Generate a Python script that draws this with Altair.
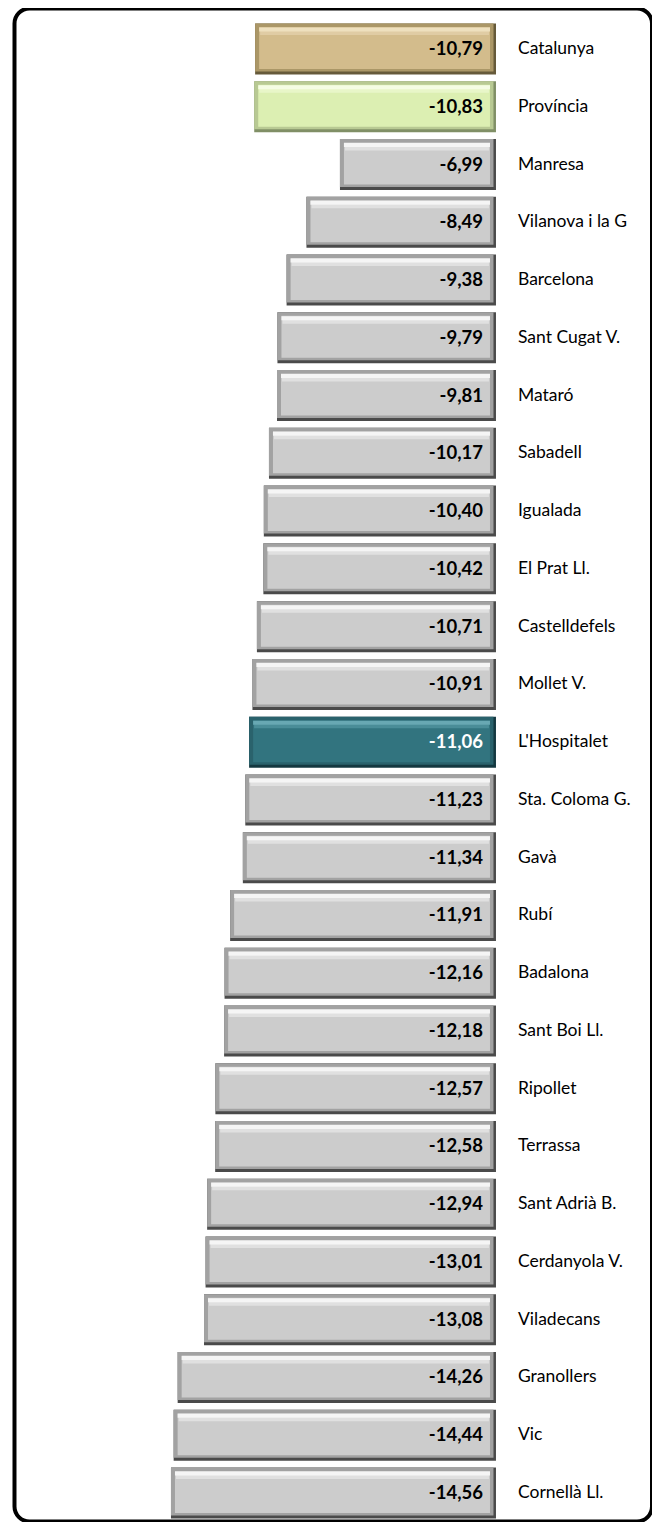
import altair as alt
import pandas as pd

names = ["Catalunya", "Província", "Manresa", "Vilanova  i la G", "Barcelona",
         "Sant Cugat V.", "Mataró", "Sabadell", "Igualada", "El Prat Ll.",
         "Castelldefels", "Mollet V.", "L'Hospitalet", "Sta. Coloma  G.", "Gavà",
         "Rubí", "Badalona", "Sant Boi Ll.", "Ripollet", "Terrassa",
         "Sant Adrià B.", "Cerdanyola V.", "Viladecans", "Granollers", "Vic",
         "Cornellà Ll."]
values = [-10.79, -10.83, -6.99, -8.49, -9.38, -9.79, -9.81, -10.17, -10.40,
          -10.42, -10.71, -10.91, -11.06, -11.23, -11.34, -11.91, -12.16,
          -12.18, -12.57, -12.58, -12.94, -13.01, -13.08, -14.26, -14.44, -14.56]
kinds = ["cat", "prov"] + ["mun"] * 10 + ["hosp"] + ["mun"] * 13

kind_domain = ["cat", "prov", "hosp", "mun"]
outer_colors = ["#665a3a", "#808f66", "#143840", "#4a4a4a"]
edge_colors = ["#ab9767", "#b8c993", "#2a626c", "#a2a2a2"]
body_colors = ["#d3bc8c", "#dcefb2", "#32747f", "#cccccc"]
mid_colors = ["#e0cca4", "#e8f6c8", "#4a8d98", "#e0e0e0"]
high_colors = ["#eee0be", "#f5fce4", "#68a8b3", "#f5f5f5"]

df = pd.DataFrame({"name": names, "value": values, "kind": kinds})

FONT = "Lato"

xs = alt.Scale(domain=[-21.57, 6.99], nice=False, zero=False)
ys = alt.Scale(domain=names, paddingInner=0.1344, paddingOuter=0.165, align=0.816)

base = alt.Chart(df).encode(
    y=alt.Y("name:N", scale=ys, axis=None, sort=None),
)

def bar_layer(colors, **mk):
    return base.mark_bar(**mk).encode(
        x=alt.X("value:Q", scale=xs, axis=None),
        x2=alt.datum(0),
        color=alt.Color("kind:N", scale=alt.Scale(domain=kind_domain, range=colors), legend=None),
    )

outer = bar_layer(outer_colors, size=51)
edge = bar_layer(edge_colors, size=48, yOffset=-1.5, x2Offset=-2.5)
body = bar_layer(body_colors, size=42, yOffset=-1, xOffset=4, x2Offset=-6)
mid = bar_layer(mid_colors, size=4, yOffset=-16, xOffset=5, x2Offset=-7)
high = bar_layer(high_colors, size=4, yOffset=-19.5, xOffset=4, x2Offset=-6)

vals = base.mark_text(align="right", baseline="middle", dx=-13, fontSize=18.5,
                      fontWeight="bold", font=FONT).encode(
    x=alt.datum(0),
    text="label:N",
    color=alt.condition("datum.kind == 'hosp'", alt.value("#ffffff"), alt.value("#000000")),
).transform_calculate(
    label="'-' + replace(format(abs(datum.value), '.2f'), '.', ',')"
)

labels = base.mark_text(align="left", baseline="middle", dx=22, fontSize=17.5,
                        font=FONT, color="#000000").encode(
    x=alt.datum(0),
    text="name:N",
)

chart = alt.layer(outer, edge, body, mid, high, vals, labels).resolve_scale(
    color="independent"
).properties(
    width=637.5, height=1513,
    autosize=alt.AutoSizeParams(type="none"),
    padding={"left": 6.5, "top": 0.5, "right": 0, "bottom": 0},
).configure_view(
    stroke="#000000", strokeWidth=4, cornerRadius=15
)

chart.save("out.html", embed_options={"renderer": "svg", "actions": False})
